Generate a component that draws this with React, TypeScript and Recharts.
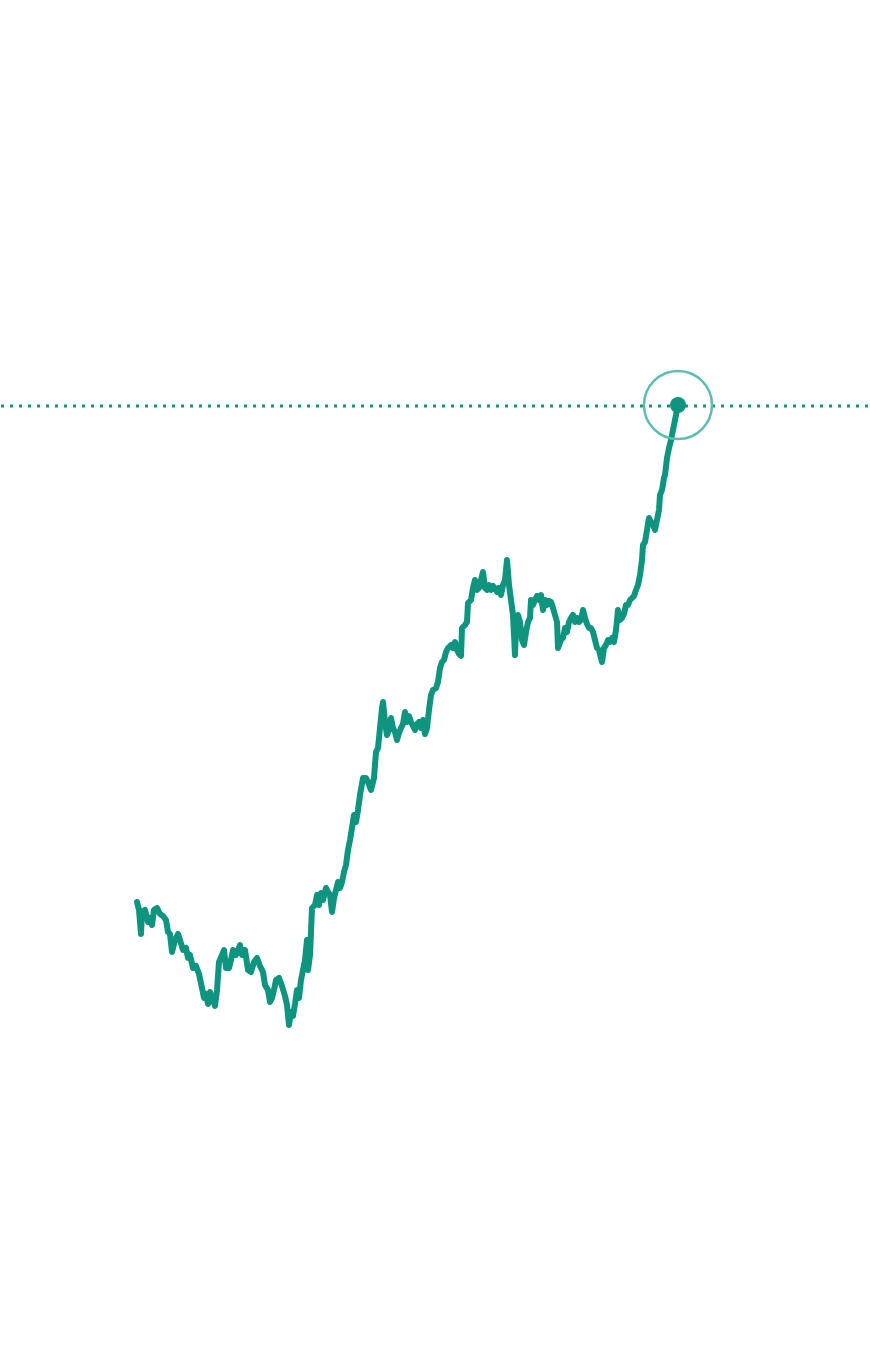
import React from 'react';
import { LineChart, Line, XAxis, YAxis, ReferenceLine, ReferenceDot } from 'recharts';

// positions along the time axis and the level at each (axis is reversed: smaller = higher)
const days = [
  137, 139, 141, 142, 145, 148, 150, 152, 154, 157, 160, 163, 166, 168, 170, 172, 175, 178, 180, 183,
  186, 188, 190, 193, 196, 199, 202, 204, 206, 208, 210, 213, 215, 217, 219, 222, 224, 226, 229, 231,
  233, 236, 238, 240, 242, 245, 248, 251, 254, 257, 260, 263, 265, 268, 270, 272, 274, 276, 279, 282,
  285, 287, 289, 291, 293, 295, 297, 299, 301, 303, 305, 307, 308, 310, 312, 315, 317, 319, 321, 323,
  326, 328, 330, 332, 334, 336, 338, 340, 342, 344, 346, 348, 350, 352, 354, 356, 358, 360, 363, 366,
  368, 371, 374, 376, 378, 380, 382, 383, 385, 387, 389, 391, 393, 395, 397, 399, 401, 403, 405, 407,
  409, 411, 413, 415, 417, 419, 421, 423, 425, 427, 429, 431, 433, 436, 438, 440, 442, 444, 446, 448,
  451, 453, 455, 457, 459, 461, 462, 465, 467, 468, 471, 473, 475, 477, 479, 481, 483, 485, 487, 489,
  491, 493, 495, 497, 499, 501, 503, 505, 507, 509, 511, 513, 515, 516, 518, 520, 522, 524, 526, 528,
  530, 531, 533, 535, 537, 539, 541, 543, 545, 547, 549, 551, 553, 555, 557, 558, 561, 563, 565, 567,
  569, 571, 573, 575, 577, 579, 581, 583, 585, 587, 589, 591, 593, 595, 597, 599, 601, 602, 604, 606,
  608, 610, 612, 614, 616, 618, 620, 622, 624, 626, 628, 630, 632, 634, 636, 638, 640, 642, 643, 645,
  647, 649, 651, 653, 655, 657, 659, 660, 662, 664, 665, 667, 669, 671, 673, 675, 677, 678,
];

const levels = [
  902, 910, 934, 912, 910, 922, 918, 925, 910, 908, 914, 916, 920, 932, 934, 952, 940, 934, 940, 950,
  948, 958, 955, 968, 966, 974, 988, 998, 994, 1004, 992, 1000, 1006, 990, 962, 955, 950, 968, 968, 960,
  950, 955, 950, 945, 955, 950, 970, 972, 962, 958, 966, 972, 985, 990, 1002, 998, 990, 980, 978, 986,
  996, 1005, 1025, 1012, 1016, 1004, 990, 998, 980, 970, 960, 940, 970, 955, 908, 905, 895, 905, 893, 900,
  888, 892, 895, 912, 898, 890, 882, 888, 882, 872, 865, 850, 840, 828, 815, 822, 810, 795, 778, 778,
  782, 790, 778, 752, 748, 728, 708, 702, 722, 735, 730, 718, 728, 732, 740, 733, 728, 724, 712, 722,
  716, 722, 726, 730, 724, 722, 728, 720, 734, 728, 710, 695, 690, 688, 682, 668, 662, 660, 652, 648,
  645, 648, 642, 650, 654, 656, 628, 625, 622, 603, 600, 588, 580, 590, 588, 580, 572, 588, 590, 585,
  590, 586, 588, 592, 588, 595, 585, 580, 560, 585, 600, 615, 655, 630, 615, 622, 640, 645, 632, 622,
  618, 600, 605, 600, 596, 600, 595, 610, 600, 605, 601, 602, 608, 615, 622, 648, 640, 638, 628, 632,
  622, 618, 615, 622, 618, 622, 620, 610, 618, 624, 628, 628, 632, 640, 648, 650, 658, 662, 648, 645,
  640, 642, 638, 642, 630, 610, 620, 618, 614, 605, 605, 600, 598, 596, 590, 585, 575, 560, 545, 542,
  530, 518, 522, 525, 530, 520, 510, 495, 490, 478, 475, 458, 448, 440, 430, 420, 410, 405,
];

const latestLevel = 406;

const data = days.map((d, i) => ({ day: d, level: levels[i] }));
const last = data[data.length - 1];

const LINE = '#0f947f';
const RING = '#5dbdb1';

export default function App() {
  return (
    <div style={{ position: 'absolute', left: 0, top: 0, background: '#fff' }}>
      <LineChart width={870} height={1358} data={data} margin={{ top: 0, right: 0, left: 0, bottom: 0 }}>
        <XAxis dataKey="day" type="number" domain={[0, 870]} hide />
        <YAxis type="number" domain={[0, 1358]} reversed hide />
        <ReferenceLine
          y={latestLevel}
          stroke={LINE}
          strokeWidth={3}
          strokeDasharray="3 6"
          strokeDashoffset={-1}
        />
        <Line
          type="linear"
          dataKey="level"
          stroke={LINE}
          strokeWidth={6}
          strokeLinejoin="round"
          strokeLinecap="round"
          dot={false}
          activeDot={false}
          isAnimationActive={false}
        />
        <ReferenceDot x={last.day} y={last.level} r={34} fill="none" stroke={RING} strokeWidth={2.5} />
        <ReferenceDot x={last.day} y={last.level} r={8} fill={LINE} stroke="none" />
      </LineChart>
    </div>
  );
}
